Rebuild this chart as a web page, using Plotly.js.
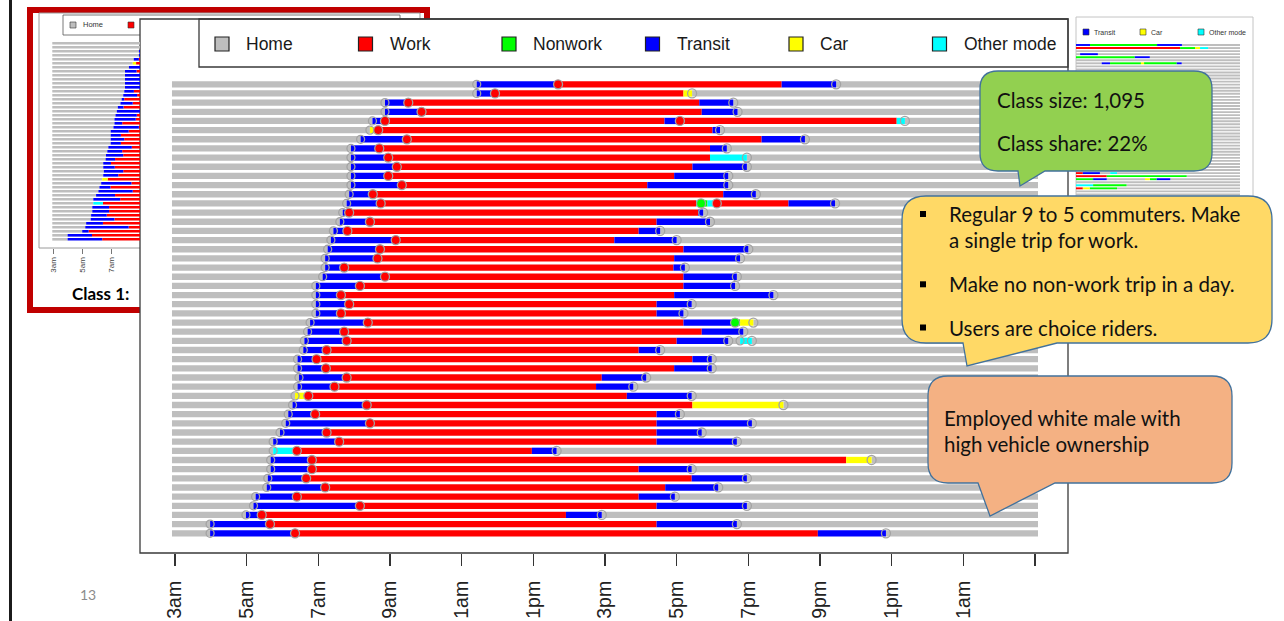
<!DOCTYPE html>
<html><head><meta charset="utf-8">
<script src="https://cdn.plot.ly/plotly-3.0.1.min.js"></script>
<style>html,body{margin:0;padding:0;background:#fff;} #chart{width:1284px;height:621px;}</style>
</head><body><div id="chart"></div>
<script>
// ---------- data ----------
const stateCodes   = ['H', 'W', 'N', 'T', 'C', 'O'];
const legendLabels = ['Home', 'Work', 'Nonwork', 'Transit', 'Car', 'Other mode'];
const stateColors  = ['#BEBEBE', '#FF0000', '#00FF00', '#0000FF', '#FFFF00', '#00FFFF'];

const tickHours  = [3, 5, 7, 9, 11, 13, 15, 17, 19, 21, 23, 25, 27];
const tickLabels = ['3am', '5am', '7am', '9am', '1am', '1pm', '3pm', '5pm', '7pm', '9pm', '1pm', '1am', ''];

// Class 1 sequences (one per respondent, top to bottom): state codes, and the hour at which each later state begins
const rowStates = [
  'HTWTH','HTWCH','HTWTH','HTWTH','HTWTWOH','HCWTH','HTWTH','HTWTH','HTWOH','HTWTH',
  'HTWTH','HTWTH','HTWTH','HTWONOWTH','HTWTH','HTWTH','HTWTH','HTWTH','HTWTH','HTWTH',
  'HTWTH','HTWTH','HTWTH','HTWTH','HTWTH','HTWTH','HTWTNCH','HTWTH','HTWTHOH','HTWTH',
  'HTWTH','HTWTH','HTWTH','HTWTH','HCWTH','HTWCH','HTWTH','HTWTH','HTWTH','HTWTH',
  'HOWTH','HTWCH','HTWTH','HTWTH','HTWTH','HTWTH','HTWTH','HTWTH','HTWTH','HTWTH'
];
const rowTimes = [
  [11.42, 13.69, 19.93, 21.45], [11.42, 11.93, 17.19, 17.43], [8.86, 9.51, 17.63, 18.58], [8.86, 9.88, 17.70, 18.70],
  [8.51, 8.86, 16.66, 17.09, 23.14, 23.37], [8.44, 8.67, 18.00, 18.21], [8.18, 9.47, 19.37, 20.58], [7.91, 8.70, 17.93, 18.40],
  [7.91, 8.95, 17.93, 18.96], [7.91, 9.19, 17.44, 18.96], [7.91, 8.95, 16.93, 18.44], [7.91, 9.33, 16.18, 18.44],
  [7.86, 8.52, 18.30, 19.21], [7.79, 8.74, 17.54, 17.68, 17.86, 18.12, 20.12, 21.42], [7.68, 7.86, 17.60, 17.74],
  [7.60, 8.44, 16.44, 17.93], [7.42, 7.81, 15.94, 16.54], [7.35, 9.16, 15.26, 17.00], [7.26, 8.72, 17.19, 19.00],
  [7.19, 8.65, 16.93, 18.77], [7.19, 7.72, 16.91, 17.23], [7.12, 8.86, 17.19, 18.68], [6.93, 8.16, 17.19, 18.63],
  [6.93, 7.63, 16.93, 19.70], [6.93, 7.86, 16.44, 17.42], [6.93, 7.63, 16.44, 17.19], [6.77, 8.38, 17.19, 18.63, 18.77, 19.14],
  [6.70, 7.72, 17.70, 18.86], [6.61, 7.79, 17.00, 18.44, 18.77, 19.10], [6.58, 7.23, 15.94, 16.54], [6.42, 6.95, 17.44, 17.98],
  [6.42, 7.21, 16.93, 17.98], [6.46, 7.79, 14.91, 16.15], [6.42, 7.45, 14.75, 15.79], [6.35, 6.72, 15.61, 17.42],
  [6.28, 8.35, 17.44, 19.98], [6.16, 6.91, 16.44, 17.09], [6.09, 8.44, 16.44, 19.10], [5.93, 7.23, 16.44, 17.70],
  [5.74, 7.58, 16.44, 18.68], [5.74, 6.40, 12.96, 13.65], [5.67, 6.82, 21.73, 22.44], [5.67, 6.82, 15.94, 17.42],
  [5.59, 6.66, 17.42, 18.96], [5.56, 7.19, 16.68, 18.16], [5.25, 6.40, 15.94, 16.95], [5.19, 8.16, 16.44, 18.96],
  [4.98, 5.42, 13.91, 14.91], [3.98, 5.65, 16.44, 18.68], [3.98, 6.35, 20.94, 22.84]
];

// Partly hidden thumbnail of another class (right side): only the readable rows
const class2RowCount = 50;
const class2Rows   = [1, 2, 4, 5, 7, 43, 44, 45, 47, 48];
const class2States = ['TNTH', 'WNCOH', 'HTH', 'NTH', 'HTNCNTH', 'WTHOH', 'WNH', 'NTHCNTH', 'ONH', 'WCNH'];
const class2Times  = [[5.05, 14.86, 18.5], [18.23, 20.42, 21.15, 22.33], [3.6, 6.2], [11.6, 13.8], [6.76, 7.98, 12.5, 12.96, 17.74, 18.47],
                      [4.0, 6.5, 8.0, 9.0], [7.5, 19.2], [5.5, 7.5, 13.1, 13.8, 14.8, 16.8], [5.5, 10.4], [4.0, 5.0, 9.0]];
const class2Legend = ['Transit', 'Car', 'Other mode'];

const thumbTickHours  = [3, 5, 7];
const thumbTickLabels = ['3am', '5am', '7am'];

const classLabel   = 'Class 1:';
const classInfo    = ['Class size: 1,095', 'Class share: 22%'];
const bulletLines  = [['Regular 9 to 5 commuters. Make', 'a single trip for work.'], ['Make no non-work trip in a day.'], ['Users are choice riders.']];
const profileLines = ['Employed white male with', 'high vehicle ownership'];
const pageNumber   = '13';

// ---------- helpers ----------
const W = 1284, H = 621;
const px = x => x / W;
const py = y => 1 - y / H;
const isTrip = s => s === 'T' || s === 'C' || s === 'O';
const colorOf = s => stateColors[stateCodes.indexOf(s)];

function buildTraces(statesArr, timesArr, rowNums, xa, ya, cap, barWidth, markerSize) {
  const bars = {};
  stateCodes.forEach(s => bars[s] = {y: [], base: [], x: []});
  const arr = {x: [], y: [], c: []}, dep = {x: [], y: []};
  statesArr.forEach((seqStr, i) => {
    const seq = seqStr.split('');
    const t = [3, ...timesArr[i], 27];
    const r = rowNums[i];
    seq.forEach((s, k) => {
      let a = t[k], b = t[k + 1];
      if (k === 0) a -= cap;
      if (k === seq.length - 1) b += cap;
      bars[s].y.push(r); bars[s].base.push(a); bars[s].x.push(b - a);
      if (k > 0) {
        const prev = seq[k - 1];
        if (isTrip(s) && prev === 'H') { dep.x.push(t[k]); dep.y.push(r); }
        else if (!isTrip(s) && isTrip(prev)) {
          arr.x.push(t[k]); arr.y.push(r);
          arr.c.push(s === 'H' ? 'rgba(0,0,0,0)' : colorOf(s));
        }
      }
    });
  });
  const traces = stateCodes.map((s, j) => ({
    type: 'bar', orientation: 'h', name: legendLabels[j], xaxis: xa, yaxis: ya,
    y: bars[s].y, base: bars[s].base, x: bars[s].x, width: barWidth,
    marker: {color: stateColors[j], line: {width: 0}}, showlegend: false, hoverinfo: 'skip'
  }));
  if (markerSize) {
    traces.push({type: 'scatter', mode: 'markers', xaxis: xa, yaxis: ya, x: dep.x, y: dep.y, showlegend: false, hoverinfo: 'skip',
      marker: {symbol: 'circle', size: markerSize - 1, color: 'rgba(0,0,0,0)', line: {color: '#A3A3A3', width: 1.3}}});
    traces.push({type: 'scatter', mode: 'markers', xaxis: xa, yaxis: ya, x: arr.x, y: arr.y, showlegend: false, hoverinfo: 'skip',
      marker: {symbol: 'circle', size: markerSize, color: arr.c, line: {color: '#A3A3A3', width: 1.3}}});
  }
  return traces;
}

const rowNums = rowStates.map((_, i) => i + 1);
let traces = [];
traces = traces.concat(buildTraces(rowStates, rowTimes, rowNums, 'x', 'y', 0.084, 0.69, 9));
traces = traces.concat(buildTraces(rowStates, rowTimes, rowNums, 'x2', 'y2', 0.07, 0.66, 0));
// right thumbnail: all rows home unless listed
const c2States = [], c2Times = [], c2Nums = [];
for (let r = 1; r <= class2RowCount; r++) {
  const k = class2Rows.indexOf(r);
  c2Nums.push(r);
  c2States.push(k >= 0 ? class2States[k] : 'H');
  c2Times.push(k >= 0 ? class2Times[k] : []);
}
traces = traces.concat(buildTraces(c2States, c2Times, c2Nums, 'x3', 'y3', 0, 0.62, 0));

// ---------- decorations ----------
const shapes = [];
const ann = [];
function rect(x0, y0, x1, y1, fill, lineColor, lw, layer) {
  shapes.push({type: 'rect', xref: 'paper', yref: 'paper', x0: px(x0), x1: px(x1), y0: py(y1), y1: py(y0),
    fillcolor: fill, line: {color: lineColor, width: lw}, layer: layer || 'below'});
}
function text(x, y, str, font, xanchor) {
  ann.push({xref: 'paper', yref: 'paper', x: px(x), y: py(y), text: str, showarrow: false,
    xanchor: xanchor || 'left', yanchor: 'middle', font: font});
}
function callout(x0, y0, x1, y1, r, bx0, tx, ty, bx1, fill) {
  const P = (x, y) => px(x) + ',' + py(y);
  const path = 'M ' + P(x0 + r, y0) + ' L ' + P(x1 - r, y0) + ' Q ' + P(x1, y0) + ' ' + P(x1, y0 + r) +
    ' L ' + P(x1, y1 - r) + ' Q ' + P(x1, y1) + ' ' + P(x1 - r, y1) + ' L ' + P(bx1, y1) + ' L ' + P(tx, ty) +
    ' L ' + P(bx0, y1) + ' L ' + P(x0 + r, y1) + ' Q ' + P(x0, y1) + ' ' + P(x0, y1 - r) +
    ' L ' + P(x0, y0 + r) + ' Q ' + P(x0, y0) + ' ' + P(x0 + r, y0) + ' Z';
  shapes.push({type: 'path', xref: 'paper', yref: 'paper', path: path, fillcolor: fill,
    line: {color: '#41719C', width: 1.3}, layer: 'above'});
}

// slide edge line
shapes.push({type: 'line', xref: 'paper', yref: 'paper', x0: px(10.5), x1: px(10.5), y0: 0, y1: 1, line: {color: '#1b1b1b', width: 3}, layer: 'below'});
// left thumbnail with red frame
rect(30, 10, 427, 310, '#ffffff', '#C00000', 6);
rect(39, 13, 420, 248, 'rgba(0,0,0,0)', '#9a9a9a', 1);
rect(63, 15, 400, 35, 'rgba(0,0,0,0)', '#555', 0.8);
rect(70, 22, 76, 28, stateColors[0], '#333', 0.6);
rect(128, 22, 134, 28, stateColors[1], '#333', 0.6);
text(81, 25, legendLabels[0], {family: 'Liberation Sans, Arial', size: 7.5, color: '#333'});
text(70, 293, '<b>' + classLabel + '</b>', {family: 'Lato, Noto Sans', size: 17, color: '#000'});
// main plot frame and legend box
rect(140, 19, 1068, 553, '#ffffff', '#3a3a3a', 1.3);
rect(199, 19, 1068, 67, 'rgba(0,0,0,0)', '#3a3a3a', 1.3);
legendLabels.forEach((lab, j) => {
  const cx = 222 + 143.5 * j;
  rect(cx - 7, 37, cx + 7, 51, stateColors[j], '#222', 1.2);
  text(cx + 22, 44, lab, {family: 'Liberation Sans, Arial', size: 17.5, color: '#1a1a1a'});
});
// right thumbnail frame + legend
rect(1076, 17, 1253, 240, 'rgba(0,0,0,0)', '#c4c4c4', 1);
const c2LegendX = [1083, 1140, 1198];
class2Legend.forEach((lab, j) => {
  const code = stateCodes[legendLabels.indexOf(lab)];
  rect(c2LegendX[j], 29, c2LegendX[j] + 6, 35, colorOf(code), '#333', 0.6);
  text(c2LegendX[j] + 9, 32, lab, {family: 'Liberation Sans, Arial', size: 7, color: '#333'});
});

// callouts
callout(980, 71, 1212, 171, 18, 1018, 1020, 186, 1045, '#92D050');
callout(902, 196, 1272, 343, 24, 963, 967, 366, 1057, '#FFD966');
callout(928, 376, 1232, 483, 20, 978, 990, 516, 1055, '#F4B183');

const calloutFont = {family: 'Lato, Noto Sans', size: 20.5, color: '#111'};
text(995, 100, classInfo[0], calloutFont);
text(995, 143, classInfo[1], calloutFont);
const bulletY = [[214, 240], [284.3], [327.5]];
bulletLines.forEach((lines, b) => {
  rect(920, bulletY[b][0] - 3, 926, bulletY[b][0] + 3, '#000', '#000', 0, 'above');
  lines.forEach((ln, k) => text(947, bulletY[b][k], ln, calloutFont));
});
text(942, 417.5, profileLines[0], calloutFont);
text(942, 444, profileLines[1], calloutFont);
text(88, 594, pageNumber, {family: 'Lato, Noto Sans', size: 14, color: '#8c8c8c'}, 'center');

// ---------- layout ----------
const pxPerHour = 35.833;
const layout = {
  width: W, height: H, margin: {l: 0, r: 0, t: 0, b: 0, pad: 0},
  paper_bgcolor: '#ffffff', plot_bgcolor: 'rgba(0,0,0,0)',
  barmode: 'overlay', showlegend: false, hovermode: false,
  xaxis: {domain: [px(140), px(1068)], range: [3 - (175 - 140) / pxPerHour, 3 + (1068 - 175) / pxPerHour],
    tickmode: 'array', tickvals: tickHours, ticktext: tickLabels, tickangle: -90,
    ticks: 'outside', ticklen: 12, tickwidth: 1.2, tickcolor: '#333', ticklabelstandoff: 7,
    tickfont: {family: 'Liberation Sans, Arial', size: 19.5, color: '#222'},
    showgrid: false, zeroline: false, showline: false, fixedrange: true, anchor: 'y'},
  yaxis: {domain: [py(553), py(19)], range: [1 + (553 - 84.3) / 9.163, 1 - (84.3 - 19) / 9.163],
    showticklabels: false, ticks: '', showgrid: false, zeroline: false, showline: false, fixedrange: true, anchor: 'x'},
  xaxis2: {domain: [px(39), px(140)], range: [3 - (53.3 - 39) / 14.6, 3 + (140 - 53.3) / 14.6], anchor: 'y2',
    tickmode: 'array', tickvals: thumbTickHours, ticktext: thumbTickLabels, tickangle: -90,
    ticks: 'outside', ticklen: 5, tickwidth: 0.8, tickcolor: '#555',
    tickfont: {family: 'Liberation Sans, Arial', size: 8, color: '#444'},
    showgrid: false, zeroline: false, showline: false, fixedrange: true},
  yaxis2: {domain: [py(248), py(13)], range: [1 + (248 - 43.3) / 4.0, 1 - (43.3 - 13) / 4.0], anchor: 'x2',
    showticklabels: false, ticks: '', showgrid: false, zeroline: false, showline: false, fixedrange: true},
  xaxis3: {domain: [px(1076), px(1240)], range: [3, 27], anchor: 'y3', visible: false, fixedrange: true},
  yaxis3: {domain: [py(197), py(43)], range: [1 + (197 - 45) / 3.05, 1 - (45 - 43) / 3.05], anchor: 'x3', visible: false, fixedrange: true},
  shapes: shapes, annotations: ann
};

Plotly.newPlot('chart', traces, layout, {displayModeBar: false, staticPlot: true});
</script>
</body></html>
